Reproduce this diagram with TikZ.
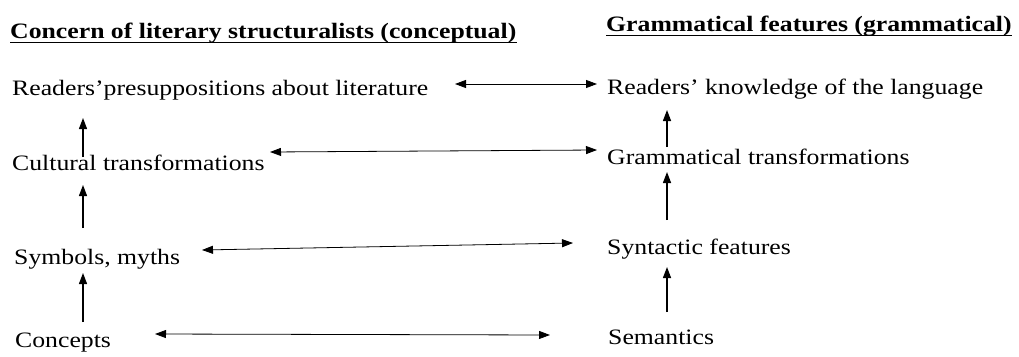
\documentclass[tikz,border=0pt]{standalone}
\usepackage{fontspec}
\setmainfont{Liberation Serif}
\usetikzlibrary{arrows.meta}
\newcommand{\wide}[1]{\scalebox{1.17}[1]{#1}}
\tikzset{
  lbl/.style={anchor=base west, inner sep=0pt, font=\fontsize{22}{26}\selectfont},
  hdr/.style={anchor=base west, inner sep=0pt, font=\fontsize{22}{26}\selectfont\bfseries},
  uline/.style={line width=0.9pt},
  harrow/.style={line width=0.8pt, {Triangle[length=11pt,width=8pt]}-{Triangle[length=11pt,width=8pt]}},
  varrow/.style={line width=1.3pt, -{Triangle[length=11pt,width=8pt]}}
}
\begin{document}
\begin{tikzpicture}[x=1pt,y=-1pt]
\useasboundingbox (0,0) rectangle (1019,356);
% headers
\node[hdr] (h1) at (10,38) {\wide{Concern of literary structuralists (conceptual)}};
\node[hdr] (h2) at (606,31) {\wide{Grammatical features (grammatical)}};
\draw[uline] ([yshift=-4pt]h1.base west) -- ([yshift=-4pt]h1.base east);
\draw[uline] ([yshift=-4pt]h2.base west) -- ([yshift=-4pt]h2.base east);
% left column
\node[lbl] (l1) at (12,95) {\wide{Readers'presuppositions about literature}};
\node[lbl] (l2) at (12,170) {\wide{Cultural transformations}};
\node[lbl] (l3) at (14,264) {\wide{Symbols, myths}};
\node[lbl] (l4) at (15,347) {\wide{Concepts}};
% right column
\node[lbl] (r1) at (607,94) {\wide{Readers' knowledge of the language}};
\node[lbl] (r2) at (607,164) {\wide{Grammatical transformations}};
\node[lbl] (r3) at (607,254) {\wide{Syntactic features}};
\node[lbl] (r4) at (608,344) {\wide{Semantics}};
% horizontal arrow ends
\coordinate (a1l) at (455,84);  \coordinate (a1r) at (597,84);
\coordinate (a2l) at (270,152); \coordinate (a2r) at (597,150);
\coordinate (a3l) at (202,250); \coordinate (a3r) at (573,243);
\coordinate (a4l) at (155,334); \coordinate (a4r) at (550,335);
\draw[harrow] (a1l) -- (a1r);
\draw[harrow] (a2l) -- (a2r);
\draw[harrow] (a3l) -- (a3r);
\draw[harrow] (a4l) -- (a4r);
% vertical arrows
\coordinate (v1b) at (83,157); \coordinate (v1t) at (83,118);
\coordinate (v2b) at (83,228); \coordinate (v2t) at (83,185);
\coordinate (v3b) at (83,322); \coordinate (v3t) at (83,273);
\coordinate (w1b) at (667,147); \coordinate (w1t) at (667,110);
\coordinate (w2b) at (667,220); \coordinate (w2t) at (667,172);
\coordinate (w3b) at (667,312); \coordinate (w3t) at (667,267);
\draw[varrow] (v1b) -- (v1t);
\draw[varrow] (v2b) -- (v2t);
\draw[varrow] (v3b) -- (v3t);
\draw[varrow] (w1b) -- (w1t);
\draw[varrow] (w2b) -- (w2t);
\draw[varrow] (w3b) -- (w3t);
\end{tikzpicture}
\end{document}
